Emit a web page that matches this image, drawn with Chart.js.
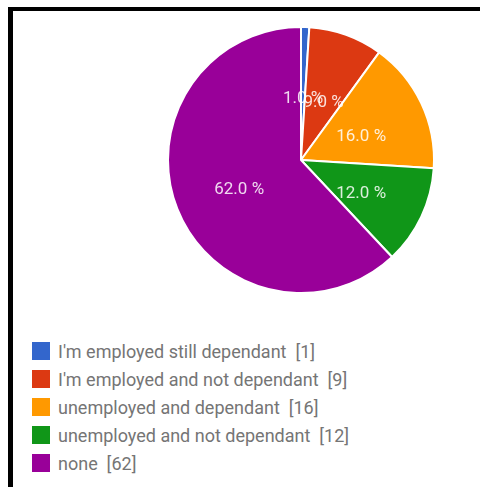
<!DOCTYPE html>
<html>
<head>
<meta charset="utf-8">
<script src="https://cdn.jsdelivr.net/npm/chart.js@4.4.1/dist/chart.umd.min.js"></script>
<style>
  html, body { margin: 0; padding: 0; background: #fff; overflow: hidden; }
  body { width: 480px; height: 487px; position: relative; font-family: Roboto, Arial, sans-serif; }
  /* black frame: top and left edges only, runs off the page */
  .frame { position: absolute; left: 8px; top: 7px; right: -20px; bottom: -20px;
           border-left: 5px solid #000; border-top: 4px solid #000; }
  .pie-box { position: absolute; left: 151px; top: 10px; width: 300px; height: 300px; }
  #legend { position: absolute; left: 32px; top: 337px; margin: 0; padding: 0; list-style: none; }
  #legend li { display: flex; align-items: center; height: 28px; color: #757575;
               font-size: 18px; white-space: pre; }
  #legend .swatch { width: 18px; height: 18px; margin-right: 8px; flex: none; }
</style>
</head>
<body>
<div class="frame"></div>
<div class="pie-box"><canvas id="pie"></canvas></div>
<ul id="legend"></ul>
<script>
const categories = [
  "I'm employed still dependant",
  "I'm employed and not dependant",
  "unemployed and dependant",
  "unemployed and not dependant",
  "none"
];
const counts = [1, 9, 16, 12, 62];

const palette = ['#3366cc', '#dc3912', '#ff9900', '#109618', '#990099'];

const total = counts.reduce((a, b) => a + b, 0);
const pct = v => (v / total * 100).toFixed(1) + ' %';

// percentage text in the middle of each slice
const sliceLabels = {
  id: 'sliceLabels',
  afterDatasetsDraw(chart) {
    const ctx = chart.ctx;
    const meta = chart.getDatasetMeta(0);
    ctx.save();
    ctx.font = '17px Roboto, Arial, sans-serif';
    ctx.fillStyle = 'rgba(255, 255, 255, 0.85)';
    ctx.textAlign = 'center';
    ctx.textBaseline = 'middle';
    meta.data.forEach((arc, i) => {
      const p = arc.getCenterPoint();
      ctx.fillText(pct(counts[i]), p.x, p.y + 5);
    });
    ctx.restore();
  }
};

// html legend built from the chart's own legend items
const htmlLegend = {
  id: 'htmlLegend',
  afterUpdate(chart) {
    const ul = document.getElementById('legend');
    ul.innerHTML = '';
    const items = chart.options.plugins.legend.labels.generateLabels(chart);
    items.forEach((item, i) => {
      const li = document.createElement('li');
      const box = document.createElement('span');
      box.className = 'swatch';
      box.style.background = item.fillStyle;
      const txt = document.createElement('span');
      txt.textContent = item.text + '  [' + counts[i] + ']';
      li.appendChild(box);
      li.appendChild(txt);
      ul.appendChild(li);
    });
  }
};

new Chart(document.getElementById('pie'), {
  type: 'pie',
  data: {
    labels: categories,
    datasets: [{
      data: counts,
      backgroundColor: palette,
      borderColor: '#ffffff',
      borderWidth: 2,
      radius: 133
    }]
  },
  options: {
    responsive: true,
    maintainAspectRatio: false,
    animation: false,
    layout: { padding: 0 },
    plugins: {
      legend: { display: false },
      tooltip: { enabled: false }
    }
  },
  plugins: [sliceLabels, htmlLegend]
});
</script>
</body>
</html>
